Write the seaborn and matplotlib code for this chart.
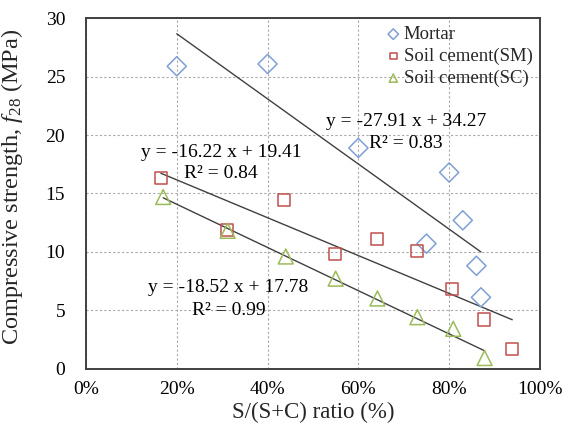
import numpy as np
import pandas as pd
import matplotlib
matplotlib.use("Agg")
import matplotlib.pyplot as plt
from matplotlib.ticker import FuncFormatter
import seaborn as sns

# S/(S+C) ratio (fraction) and 28-day compressive strength (MPa)
mortar_x = [0.20, 0.40, 0.60, 0.80, 0.83, 0.75, 0.86, 0.87]
mortar_y = [25.9, 26.1, 18.9, 16.8, 12.7, 10.7, 8.8, 6.1]

sm_x = [0.165, 0.31, 0.437, 0.548, 0.642, 0.729, 0.806, 0.876, 0.939]
sm_y = [16.3, 11.9, 14.4, 9.8, 11.1, 10.1, 6.8, 4.2, 1.7]

sc_x = [0.17, 0.312, 0.44, 0.55, 0.642, 0.73, 0.809, 0.878]
sc_y = [14.7, 11.8, 9.6, 7.7, 6.0, 4.4, 3.4, 0.9]

series_names = ["Mortar", "Soil cement(SM)", "Soil cement(SC)"]
slopes = [-27.91, -16.22, -18.52]
intercepts = [34.27, 19.41, 17.78]
r_squared = [0.83, 0.84, 0.99]

x_ticks = [0.0, 0.2, 0.4, 0.6, 0.8, 1.0]
y_ticks = [0, 5, 10, 15, 20, 25, 30]

sns.set_style("white")
plt.rcParams["font.family"] = ["Liberation Serif", "DejaVu Serif"]
plt.rcParams["mathtext.fontset"] = "custom"
plt.rcParams["mathtext.rm"] = "Liberation Serif"
plt.rcParams["mathtext.it"] = "Liberation Serif:italic"

fig = plt.figure(figsize=(5.72, 4.29), dpi=100)
ax = fig.add_axes([0.1503, 0.141, 0.7937, 0.816])

colors = ["#7F9FD5", "#C0504D", "#9BBB59"]
markers = ["D", "s", "^"]
sizes = [95, 75, 115]
xs = [mortar_x, sm_x, sc_x]
ys = [mortar_y, sm_y, sc_y]

for name, x, y, c, m, s in zip(series_names, xs, ys, colors, markers, sizes):
    df = pd.DataFrame({"x": x, "y": y})
    sns.scatterplot(data=df, x="x", y="y", ax=ax, marker=m, s=s,
                    facecolors="none", edgecolor=c, linewidth=1.1,
                    label=name, zorder=3)

# Linear trend lines over each series' range
for x, b1, b0 in zip(xs, slopes, intercepts):
    xl = np.array([min(x), max(x)])
    sns.lineplot(x=xl, y=b1 * xl + b0, ax=ax, color="#404040",
                 linewidth=1.0, legend=False, zorder=2)

# Equation labels
eq_pos = [(0.705, 21.15), (0.298, 18.55), (0.314, 6.9)]
r2_pos = [(0.705, 19.25), (0.298, 16.7), (0.314, 5.0)]
for b1, b0, r2, p, q in zip(slopes, intercepts, r_squared, eq_pos, r2_pos):
    ax.text(p[0], p[1], f"y = {b1:.2f} x + {b0:.2f}", ha="center",
            va="center", fontsize=14, color="black")
    ax.text(q[0], q[1], f"R² = {r2:.2f}", ha="center", va="center",
            fontsize=14, color="black")

ax.set_xlim(0, 1)
ax.set_ylim(0, 30)
ax.set_xticks(x_ticks)
ax.set_yticks(y_ticks)
ax.xaxis.set_major_formatter(FuncFormatter(lambda v, _: f"{v * 100:.0f}%"))
ax.tick_params(axis="both", direction="in", length=5, width=1,
               labelsize=14, colors="black")
ax.tick_params(axis="y", pad=15, length=0)
ax.tick_params(axis="x", pad=9)

ax.grid(True, color="#A8A8A8", linestyle=(0, (2, 2)), linewidth=0.8)
for sp in ax.spines.values():
    sp.set_color("#404040")
    sp.set_linewidth(1.4)

ax.set_xlabel("S/(S+C) ratio (%)", fontsize=16.5, labelpad=3)
ax.set_ylabel(r"Compressive strength, $\mathit{f}_{\mathit{28}}$ (MPa)",
              fontsize=17.5, labelpad=4)
ax.yaxis.set_label_coords(-0.135, 0.52)

leg = ax.legend(loc="upper right", frameon=False, fontsize=13.5,
                handletextpad=0.05, borderaxespad=0.0, labelspacing=0.25,
                markerscale=0.55, handlelength=1.0,
                bbox_to_anchor=(1.0, 1.0))

fig.savefig("out.png", dpi=100)
